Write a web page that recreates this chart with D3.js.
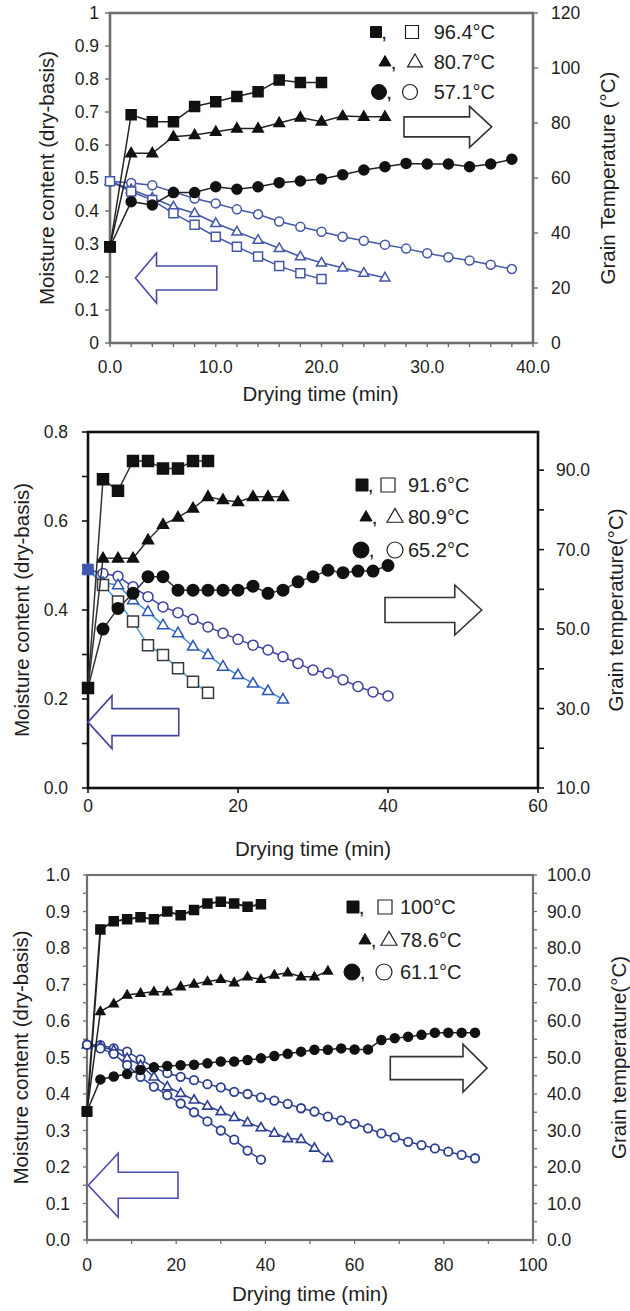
<!DOCTYPE html>
<html><head><meta charset="utf-8">
<script src="https://cdn.jsdelivr.net/npm/d3@7"></script>
<style>
body{margin:0;background:#fff}
svg{display:block}
text{font-family:"Liberation Sans",Arial,Helvetica,sans-serif;fill:#1e1e1e}
</style>
</head><body>
<svg id="c" width="630" height="1311"></svg>
<script>
// ---------------- DATA ----------------
// Panel 1 (2-min steps)
const p1Time = [0,2,4,6,8,10,12,14,16,18,20,22,24,26,28,30,32,34,36,38];
const p1TempHigh = [35,83,80.5,80.5,86,87.7,89.6,91.4,95.6,94.7,94.7];
const p1TempMid  = [35,69,69,75,75.6,76.8,78,78,80,82,80.5,82.5,82.3,82.3];
const p1TempLow  = [35,51.4,50.2,54.7,54.7,56.8,55.9,56.8,58.3,58.9,59.6,61.2,62.9,64.1,65.3,65.1,65.1,64.1,65.1,66.8];
const p1MoistHigh = [0.49,0.459,0.433,0.393,0.358,0.322,0.292,0.262,0.233,0.211,0.194];
const p1MoistMid  = [0.49,0.465,0.44,0.413,0.393,0.363,0.337,0.312,0.287,0.262,0.243,0.228,0.212,0.198];
const p1MoistLow  = [0.49,0.485,0.478,0.458,0.438,0.423,0.405,0.39,0.368,0.352,0.337,0.322,0.31,0.298,0.286,0.272,0.26,0.25,0.237,0.224];
const p1Legend = ["96.4°C","80.7°C","57.1°C"];
const p1XTicks = [0,10,20,30,40];
const p1XLabels = ["0.0","10.0","20.0","30.0","40.0"];
const p1YTicks = [0,0.1,0.2,0.3,0.4,0.5,0.6,0.7,0.8,0.9,1];
const p1YLabels = ["0","0.1","0.2","0.3","0.4","0.5","0.6","0.7","0.8","0.9","1"];
const p1Y2Ticks = [0,20,40,60,80,100,120];
const p1Y2Labels = ["0","20","40","60","80","100","120"];

// Panel 2 (2-min steps)
const p2Time = [0,2,4,6,8,10,12,14,16,18,20,22,24,26,28,30,32,34,36,38,40];
const p2TempHigh = [35.2,87.7,84.8,92.3,92.3,90.4,90.4,92.3,92.3];
const p2TempMid  = [35.2,67.8,67.8,67.8,72.4,76.3,78.1,80.4,83.3,82.5,82.0,83.3,83.3,83.3];
const p2TempLow  = [35.2,50,55.2,59,63.2,63.2,59.8,59.8,59.8,59.8,59.8,60.8,59.0,59.8,61.9,63.2,64.8,64.2,64.6,64.6,66];
const p2MoistHigh = [0.491,0.456,0.419,0.374,0.321,0.299,0.269,0.239,0.214];
const p2MoistMid  = [0.491,0.461,0.456,0.422,0.396,0.366,0.348,0.318,0.299,0.273,0.254,0.235,0.218,0.199];
const p2MoistLow  = [0.491,0.482,0.476,0.452,0.43,0.407,0.394,0.379,0.362,0.348,0.334,0.321,0.31,0.295,0.28,0.265,0.258,0.243,0.228,0.216,0.207];
const p2Legend = ["91.6°C","80.9°C","65.2°C"];
const p2XTicks = [0,20,40,60];
const p2XLabels = ["0","20","40","60"];
const p2YTicks = [0,0.2,0.4,0.6,0.8];
const p2YLabels = ["0.0","0.2","0.4","0.6","0.8"];
const p2Y2Ticks = [10,30,50,70,90];
const p2Y2Labels = ["10.0","30.0","50.0","70.0","90.0"];

// Panel 3 (3-min steps)
const p3Time = [0,3,6,9,12,15,18,21,24,27,30,33,36,39,42,45,48,51,54,57,60,63,66,69,72,75,78,81,84,87];
const p3TempHigh = [35.2,85.1,87.3,87.9,88.4,87.9,90.0,89.0,90.4,92.2,92.7,92.2,91.3,92.0];
const p3TempMid  = [35.2,62.6,64.7,67.1,67.6,68.0,68.0,69.4,70.1,70.8,71.4,70.5,72.1,71.4,72.6,73.2,72.1,72.1,73.7];
const p3TempLow  = [35.2,44.0,44.8,45.5,46.6,47.3,47.7,47.9,48.0,48.4,48.9,48.9,49.3,49.8,50.4,51.0,51.6,52.1,52.1,52.5,52.2,52.2,54.8,55.3,55.7,56.2,56.8,56.8,56.8,56.8];
const p3MoistHigh = [0.535,0.525,0.51,0.479,0.447,0.42,0.397,0.374,0.35,0.325,0.30,0.275,0.245,0.22];
const p3MoistMid  = [0.535,0.53,0.52,0.498,0.479,0.447,0.42,0.402,0.384,0.367,0.352,0.336,0.322,0.308,0.293,0.278,0.276,0.252,0.224];
const p3MoistLow  = [0.535,0.534,0.525,0.516,0.495,0.473,0.457,0.447,0.438,0.427,0.418,0.406,0.4,0.391,0.382,0.373,0.361,0.352,0.338,0.328,0.318,0.306,0.292,0.281,0.269,0.26,0.251,0.242,0.233,0.224];
const p3Legend = ["100°C","78.6°C","61.1°C"];
const p3XTicks = [0,20,40,60,80,100];
const p3XLabels = ["0","20","40","60","80","100"];
const p3YTicks = [0,0.1,0.2,0.3,0.4,0.5,0.6,0.7,0.8,0.9,1.0];
const p3YLabels = ["0.0","0.1","0.2","0.3","0.4","0.5","0.6","0.7","0.8","0.9","1.0"];
const p3Y2Ticks = [0,10,20,30,40,50,60,70,80,90,100];
const p3Y2Labels = ["0.0","10.0","20.0","30.0","40.0","50.0","60.0","70.0","80.0","90.0","100.0"];

const xTitle = "Drying time (min)";
const yTitle = "Moisture content (dry-basis)";

// ---------------- DRAWING ----------------
const svg = d3.select("#c");

function markerPath(shape, cx, cy, s) {
  const p = d3.path();
  if (shape === "square") {
    p.rect(cx - s/2, cy - s/2, s, s);
  } else if (shape === "triangle") {
    const h = s * 0.866;
    p.moveTo(cx, cy - h*0.62);
    p.lineTo(cx + s/2, cy + h*0.38);
    p.lineTo(cx - s/2, cy + h*0.38);
    p.closePath();
  } else {
    p.moveTo(cx + s/2, cy);
    p.arc(cx, cy, s/2, 0, 2*Math.PI);
    p.closePath();
  }
  return p.toString();
}

function arrowPoints(a, x, y) {
  const tx = x(a.tip[0]), ty = y(a.tip[1]);
  const bx = x(a.base), ex = x(a.tail);
  const bh = a.bodyHalf, hh = a.headHalf;
  return [[tx,ty],[bx,ty-hh],[bx,ty-bh],[ex,ty-bh],[ex,ty+bh],[bx,ty+bh],[bx,ty+hh]].map(p=>p.join(",")).join(" ");
}

function drawPanel(c) {
  const g = svg.append("g");
  const x = d3.scaleLinear().domain(c.xDomain).range([c.left, c.right]);
  const y = d3.scaleLinear().domain(c.yDomain).range([c.bottom, c.top]);
  const y2 = d3.scaleLinear().domain(c.y2Domain).range([c.bottom, c.top]);

  // minor ticks
  const tk = g.append("g").attr("stroke", c.axisColor).attr("stroke-width", c.tickWidth);
  c.xMinor(x).forEach(v => tk.append("line").attr("x1", x(v)).attr("x2", x(v)).attr("y1", c.bottom).attr("y2", c.bottom + c.xTickLen));
  c.yMinor(y).forEach(v => tk.append("line").attr("x1", c.left - c.yTickLen).attr("x2", c.left).attr("y1", y(v)).attr("y2", y(v)));
  c.y2Minor(y2).forEach(v => tk.append("line").attr("x1", c.right).attr("x2", c.right + c.yTickLen).attr("y1", y2(v)).attr("y2", y2(v)));

  // frame
  g.append("rect").attr("x", c.left).attr("y", c.top).attr("width", c.right - c.left).attr("height", c.bottom - c.top)
    .attr("fill", "none").attr("stroke", c.axisColor).attr("stroke-width", c.axisWidth);

  // tick labels
  const fs = c.tickFont;
  c.xTicks.forEach((v,i) => g.append("text").attr("x", x(v)).attr("y", c.xLabelY).attr("text-anchor","middle")
    .attr("dominant-baseline","central").attr("font-size", fs).text(c.xLabels[i]));
  c.yTicks.forEach((v,i) => g.append("text").attr("x", c.yLabelX).attr("y", y(v)).attr("text-anchor","end")
    .attr("dominant-baseline","central").attr("font-size", fs).text(c.yLabels[i]));
  c.y2Ticks.forEach((v,i) => g.append("text").attr("x", c.y2LabelX).attr("y", y2(v)).attr("text-anchor","start")
    .attr("dominant-baseline","central").attr("font-size", fs).text(c.y2Labels[i]));

  // titles
  g.append("text").attr("x", (c.left + c.right)/2 + c.xTitleDx).attr("y", c.xTitleY).attr("text-anchor","middle")
    .attr("dominant-baseline","central").attr("font-size", c.titleFont).text(xTitle);
  g.append("text").attr("transform", `translate(${c.yTitleX},${(c.top+c.bottom)/2}) rotate(-90)`).attr("text-anchor","middle")
    .attr("dominant-baseline","central").attr("font-size", c.titleFont).text(yTitle);
  g.append("text").attr("transform", `translate(${c.y2TitleX},${(c.top+c.bottom)/2}) rotate(-90)`).attr("text-anchor","middle")
    .attr("dominant-baseline","central").attr("font-size", c.titleFont).text(c.y2Title);

  // arrows
  c.arrows.forEach(a => {
    g.append("polygon").attr("points", arrowPoints(a, x, y)).attr("fill", "#fff").attr("stroke", a.color).attr("stroke-width", 1.6);
  });

  // series
  c.series.forEach(s => {
    const sc = s.axis === "t" ? y2 : y;
    const pts = s.values.map((v,i) => [x(s.time[i]), sc(v)]);
    g.append("path").attr("d", d3.line()(pts)).attr("fill","none").attr("stroke", s.line).attr("stroke-width", s.lineWidth || 1.5);
    const mg = g.append("g");
    pts.forEach((p,i) => {
      const first = s.shapeFirst && i === 0;
      mg.append("path").attr("d", markerPath(first ? s.shapeFirst : s.shape, p[0], p[1], first ? s.firstSize : s.size))
        .attr("fill", first ? s.firstFill : s.fill)
        .attr("stroke", first ? s.firstFill : s.stroke)
        .attr("stroke-width", s.markerStroke || 1.5);
    });
  });

  // legend
  const L = c.legend;
  L.rows.forEach((r, i) => {
    const ry = L.y[i];
    g.append("path").attr("d", markerPath(r.shape, r.fx, ry, r.fs)).attr("fill", "#111").attr("stroke","#111");
    g.append("text").attr("x", r.fx + r.fs/2 + 0.5).attr("y", ry + 7).attr("font-size", 15).attr("font-weight","bold")
      .attr("fill","#4a3a22").text(",");
    g.append("path").attr("d", markerPath(r.shape, r.ox, ry, r.os)).attr("fill", "#fff").attr("stroke","#222").attr("stroke-width",1.2);
    g.append("text").attr("x", L.textX).attr("y", ry).attr("text-anchor", L.anchor).attr("dominant-baseline","central")
      .attr("font-size", L.font).text(c.legendLabels[i]);
  });
}

// ---------- Panel 1 ----------
const blue1 = "#4456a6";
drawPanel({
  left:110, right:533, top:13, bottom:343,
  xDomain:[0,40], yDomain:[0,1], y2Domain:[0,120],
  axisColor:"#6e6e6e", axisWidth:2.6, tickWidth:1.4, xTickLen:4, yTickLen:5,
  xMinor: x => x.ticks(20), yMinor: y => y.ticks(10), y2Minor: y2 => y2.ticks(6),
  xTicks:p1XTicks, xLabels:p1XLabels, yTicks:p1YTicks, yLabels:p1YLabels, y2Ticks:p1Y2Ticks, y2Labels:p1Y2Labels,
  tickFont:17.5, titleFont:20.5,
  xLabelY:367, yLabelX:99, y2LabelX:551,
  xTitleY:393, xTitleDx:-1, yTitleX:46, y2TitleX:607, y2Title:"Grain Temperature (°C)",
  arrows:[
    {tip:[2.4,0.197], base:4.4, tail:10.1, bodyHalf:12, headHalf:25, color:"#4a4aae"},
    {tip:[36.1,0.655], base:34.0, tail:27.8, bodyHalf:10, headHalf:20.5, color:"#333"}
  ],
  series:[
    {time:p1Time, values:p1MoistLow, axis:"m", shape:"circle", fill:"#fff", stroke:blue1, line:blue1, size:9},
    {time:p1Time, values:p1MoistMid, axis:"m", shape:"triangle", fill:"#fff", stroke:blue1, line:blue1, size:10},
    {time:p1Time, values:p1MoistHigh, axis:"m", shape:"square", fill:"#fff", stroke:blue1, line:blue1, size:9},
    {time:p1Time, values:p1TempLow, axis:"t", shape:"circle", fill:"#111", stroke:"#111", line:"#222", size:10, shapeFirst:"square", firstSize:10, firstFill:"#111"},
    {time:p1Time, values:p1TempMid, axis:"t", shape:"triangle", fill:"#111", stroke:"#111", line:"#222", size:10.5, shapeFirst:"square", firstSize:10, firstFill:"#111"},
    {time:p1Time, values:p1TempHigh, axis:"t", shape:"square", fill:"#111", stroke:"#111", line:"#222", size:10}
  ],
  legendLabels:p1Legend,
  legend:{ y:[32,62,92], textX:495, anchor:"end", font:20,
    rows:[{shape:"square", fx:376, fs:11, ox:412, os:13},
          {shape:"triangle", fx:385, fs:12, ox:415, os:15},
          {shape:"circle", fx:379, fs:15, ox:410, os:15}] }
});

// ---------- Panel 2 ----------
drawPanel({
  left:88, right:538, top:432, bottom:788,
  xDomain:[0,60], yDomain:[0,0.8], y2Domain:[10,99.6],
  axisColor:"#111", axisWidth:2.6, tickWidth:1.6, xTickLen:5, yTickLen:6,
  xMinor: x => x.ticks(3), yMinor: y => y.ticks(8), y2Minor: y2 => y2.ticks(9),
  xTicks:p2XTicks, xLabels:p2XLabels, yTicks:p2YTicks, yLabels:p2YLabels, y2Ticks:p2Y2Ticks, y2Labels:p2Y2Labels,
  tickFont:17.5, titleFont:20.5,
  xLabelY:806, yLabelX:68, y2LabelX:556,
  xTitleY:848, xTitleDx:0, yTitleX:21, y2TitleX:615, y2Title:"Grain temperature(°C)",
  arrows:[
    {tip:[0,0.148], base:3.2, tail:12.1, bodyHalf:13.5, headHalf:26.5, color:"#45459e"},
    {tip:[52.5,0.4], base:48.9, tail:39.6, bodyHalf:12.5, headHalf:25, color:"#333"}
  ],
  series:[
    {time:p2Time, values:p2MoistLow, axis:"m", shape:"circle", fill:"#fff", stroke:"#3c40a0", line:"#3c40a0", size:10},
    {time:p2Time, values:p2MoistMid, axis:"m", shape:"triangle", fill:"#fff", stroke:"#2d55b5", line:"#3f8fd6", size:11},
    {time:p2Time, values:p2MoistHigh, axis:"m", shape:"square", fill:"#fff", stroke:"#3a3a3a", line:"#4a9bdc", size:11, shapeFirst:"square", firstSize:10, firstFill:"#3e58b0"},
    {time:p2Time, values:p2TempLow, axis:"t", shape:"circle", fill:"#111", stroke:"#111", line:"#333", size:11.5, shapeFirst:"square", firstSize:10, firstFill:"#111"},
    {time:p2Time, values:p2TempMid, axis:"t", shape:"triangle", fill:"#111", stroke:"#111", line:"#333", size:11, shapeFirst:"square", firstSize:10, firstFill:"#111"},
    {time:p2Time, values:p2TempHigh, axis:"t", shape:"square", fill:"#111", stroke:"#111", line:"#333", size:11}
  ],
  legendLabels:p2Legend,
  legend:{ y:[485,517,550], textX:408, anchor:"start", font:20,
    rows:[{shape:"square", fx:362, fs:12, ox:388, os:14},
          {shape:"triangle", fx:366, fs:12, ox:395, os:16},
          {shape:"circle", fx:361, fs:16, ox:395, os:16}] }
});

// ---------- Panel 3 ----------
const blue3 = "#2d3f91";
drawPanel({
  left:87, right:533, top:875, bottom:1240,
  xDomain:[0,100], yDomain:[0,1], y2Domain:[0,100],
  axisColor:"#707070", axisWidth:2.2, tickWidth:1.3, xTickLen:4, yTickLen:4,
  xMinor: x => x.ticks(10), yMinor: y => y.ticks(20), y2Minor: y2 => y2.ticks(20),
  xTicks:p3XTicks, xLabels:p3XLabels, yTicks:p3YTicks, yLabels:p3YLabels, y2Ticks:p3Y2Ticks, y2Labels:p3Y2Labels,
  tickFont:17.5, titleFont:20.5,
  xLabelY:1265, yLabelX:70, y2LabelX:547,
  xTitleY:1293, xTitleDx:0, yTitleX:20, y2TitleX:618, y2Title:"Grain temperature(°C)",
  arrows:[
    {tip:[0.3,0.15], base:7, tail:20.4, bodyHalf:13, headHalf:32, color:"#4a4ab0"},
    {tip:[89.7,0.471], base:84.3, tail:68, bodyHalf:11.5, headHalf:24, color:"#333"}
  ],
  series:[
    {time:p3Time, values:p3MoistLow, axis:"m", shape:"circle", fill:"#fff", stroke:blue3, line:blue3, size:8.5, markerStroke:1.8},
    {time:p3Time, values:p3MoistMid, axis:"m", shape:"triangle", fill:"#fff", stroke:blue3, line:blue3, size:9.5, markerStroke:1.6},
    {time:p3Time, values:p3MoistHigh, axis:"m", shape:"circle", fill:"#fff", stroke:blue3, line:blue3, size:8.5, markerStroke:1.8},
    {time:p3Time, values:p3TempLow, axis:"t", shape:"circle", fill:"#111", stroke:"#111", line:"#222", size:9, shapeFirst:"square", firstSize:9, firstFill:"#111"},
    {time:p3Time, values:p3TempMid, axis:"t", shape:"triangle", fill:"#111", stroke:"#111", line:"#222", size:9, shapeFirst:"square", firstSize:9, firstFill:"#111"},
    {time:p3Time, values:p3TempHigh, axis:"t", shape:"square", fill:"#111", stroke:"#111", line:"#222", size:9, lineWidth:2}
  ],
  legendLabels:p3Legend,
  legend:{ y:[907,940,972], textX:400, anchor:"start", font:20,
    rows:[{shape:"square", fx:353, fs:12, ox:385, os:14},
          {shape:"triangle", fx:365, fs:12, ox:389, os:16},
          {shape:"circle", fx:352, fs:16, ox:384, os:16}] }
});
</script>
</body></html>
